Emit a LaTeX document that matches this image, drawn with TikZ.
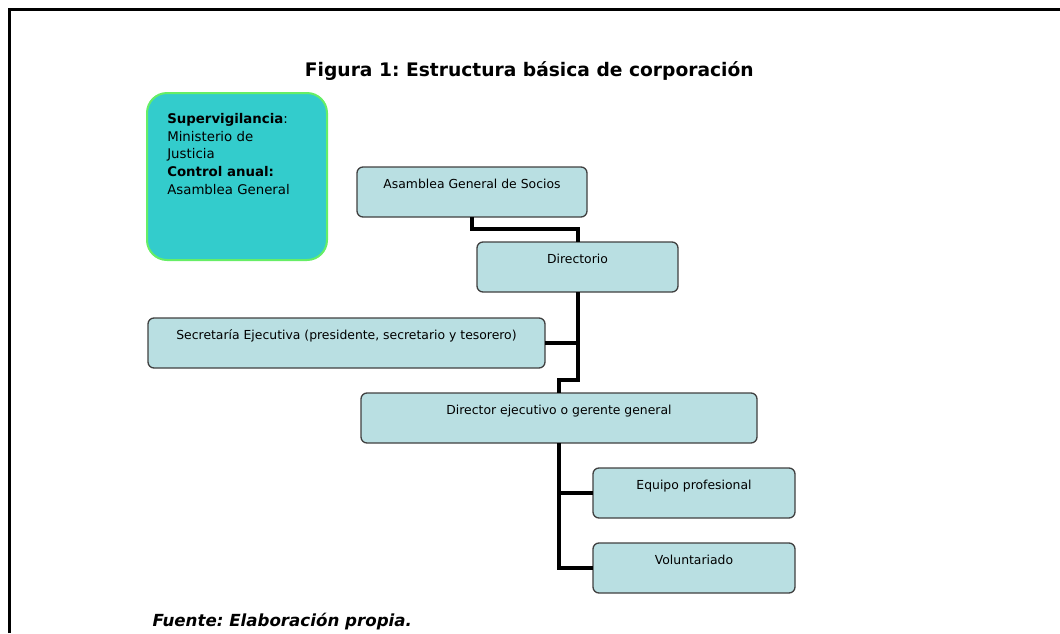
\documentclass[tikz,border=0pt]{standalone}
\usepackage{fontspec}
\setmainfont{DejaVu Sans}
\usetikzlibrary{positioning}
\frenchspacing
\definecolor{cajaazul}{HTML}{B9DFE2}
\definecolor{turquesa}{HTML}{33CCCC}
\definecolor{verdeborde}{HTML}{66EE66}

\begin{document}
\begin{tikzpicture}[
caja/.style={rectangle, rounded corners=4.5pt, draw=black!75, line width=1pt, fill=cajaazul, outer sep=0pt, minimum height=37.5pt, inner xsep=2pt, inner ysep=4pt, text height=11.75pt, text depth=17.75pt, font=\fontsize{9.3}{11}\selectfont},
nota/.style={rectangle, rounded corners=15pt, draw=verdeborde, line width=1.5pt, fill=turquesa, outer sep=0pt, minimum width=135pt, minimum height=125.25pt},
linea/.style={line width=3pt, black},
]
\useasboundingbox (0,0) rectangle (795pt,-474.75pt);
\draw[line width=2.25pt] (7.1pt,-474.75pt) -- (7.1pt,-7.1pt) -- (795pt,-7.1pt);

\node[anchor=base, font=\fontsize{14}{16}\bfseries\selectfont] (titulo) at (397pt,-57pt) {Figura 1: Estructura básica de corporación};

\node[nota, anchor=north west] (super) at (110.25pt,-69.75pt) {};
\node[align=left, inner sep=0pt, font=\fontsize{10}{13.3}\selectfont] (supertxt) [below right=15pt and 15pt of super.north west] {\textbf{Supervigilancia}:\\
Ministerio de\\
Justicia\\
\textbf{Control anual:}\\
Asamblea General};

\node[caja, minimum width=172.5pt] (asamblea) [below right=55.5pt and 22.5pt of super.north east] {Asamblea General de Socios};
\node[caja, minimum width=150.75pt] (directorio) [below right=18.75pt and -82.5pt of asamblea] {Directorio};
\node[caja, minimum width=297.75pt] (secretaria) [below left=19.5pt and -51pt of directorio] {Secretaría Ejecutiva (presidente, secretario y tesorero)};
\node[caja, minimum width=297pt] (director) [below right=18.75pt and -138pt of secretaria] {Director ejecutivo o gerente general};
\node[caja, minimum width=151.5pt] (equipo) [below right=18.75pt and -123pt of director] {Equipo profesional};
\node[caja, minimum width=151.5pt] (voluntariado) [below=18.75pt of equipo] {Voluntariado};

\node[anchor=base west, font=\fontsize{12.5}{14}\bfseries\itshape\selectfont] (fuente) at (111pt,-469.5pt) {Fuente: Elaboración propia.};

\draw[linea] (asamblea.south) -- ++(0,-9pt) -| (directorio.north);
\draw[linea] (directorio.south) -- ++(0,-66pt) -| (director.north);
\draw[linea] (secretaria.east) -- (secretaria.east -| directorio.south);
\draw[linea] (director.south) |- (equipo.west);
\draw[linea] (director.south) |- (voluntariado.west);
\end{tikzpicture}
\end{document}
